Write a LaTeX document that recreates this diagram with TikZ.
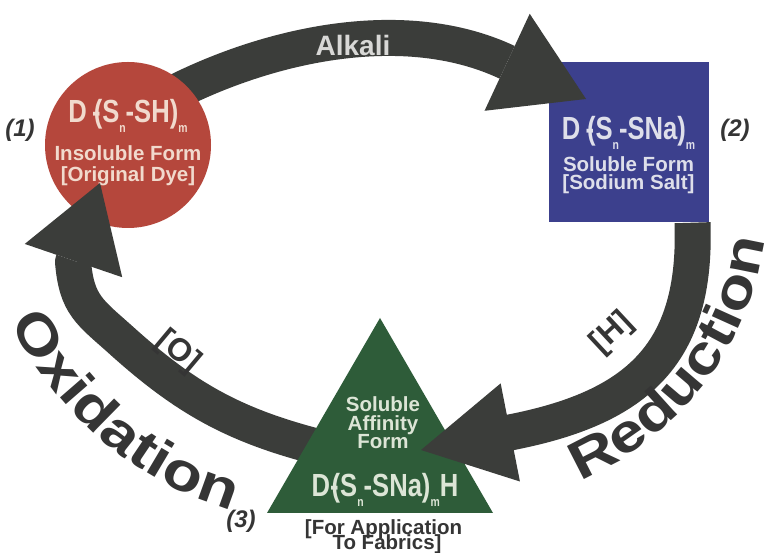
\documentclass[tikz,border=0pt]{standalone}
\usepackage{fontspec}
\setmainfont{Liberation Sans}
\newfontfamily\narrowsans[FakeStretch=0.8]{Liberation Sans}
\newfontfamily\widesans[FakeStretch=1.2]{Liberation Sans}
\usetikzlibrary{arrows.meta,decorations.text}

\definecolor{dyered}{HTML}{B5473C}
\definecolor{saltblue}{HTML}{3C408D}
\definecolor{affinitygreen}{HTML}{2E5C39}
\definecolor{bandgrey}{HTML}{3B3D3A}
\definecolor{inkgrey}{HTML}{353535}
\definecolor{peach}{HTML}{F1DACD}
\definecolor{paleblue}{HTML}{DEDFEA}
\definecolor{palegreen}{HTML}{DCE5D6}
\definecolor{alkaliink}{HTML}{D8D8D6}

\newcommand\lowsub[1]{\raisebox{-.3em}{\fontsize{13}{13}\selectfont #1}}
\newcommand\processfont{\widesans\bfseries\fontsize{54}{54}\selectfont\color{inkgrey}}

\tikzset{
  band/.style={draw=bandgrey, line width=36pt, line join=round},
  bandhead/.style 2 args={-{Triangle[length=#1, width=#2, line width=0pt]}},
  formula/.style={font=\narrowsans\bfseries\fontsize{32}{32}\selectfont, inner sep=0pt, anchor=base},
  caption/.style={font=\bfseries\fontsize{20.5}{20.5}\selectfont, inner sep=0pt, anchor=base},
  agent/.style={font=\bfseries\fontsize{32}{32}\selectfont, text=inkgrey, inner sep=0pt},
  stage/.style={font=\bfseries\itshape\fontsize{24}{24}\selectfont, text=inkgrey, inner sep=0pt},
}

\begin{document}
\begin{tikzpicture}[x=1pt,y=1pt]
  \fill [white] (0,0) rectangle (782,553);
  \useasboundingbox (0,0) rectangle (782,553);

  \coordinate (dye centre) at (128,408);
  \coordinate (alkali start) at (172,459);
  \coordinate (alkali back) at (506.5,491);
  \coordinate (alkali tip) at (586,454);
  \coordinate (oxidation start) at (326,104);
  \coordinate (oxidation bend) at (122,212);
  \coordinate (oxidation back) at (73,291);
  \coordinate (oxidation tip) at (100,370);
  \coordinate (reduction back) at (510,120.5);
  \coordinate (reduction tip) at (421,103);

  % (2) sodium salt
  \node [fill=saltblue, minimum size=160pt, inner sep=0pt] (salt) at (628.5,410.5) {};
  \node [formula, text=paleblue] (salt formula) at ([yshift=3pt]salt.center)
    {D\,-\kern-.22em(S\lowsub{n}-SNa)\lowsub{m}};
  \node [caption, text=paleblue] (salt form) at ([yshift=-29.5pt]salt.center) {Soluble Form};
  \node [caption, text=paleblue] (salt note) at ([yshift=-47.5pt]salt.center) {[Sodium Salt]};

  % alkali
  \draw
    [band, bandhead={87pt}{107pt}]
    (alkali start)
    to [out=27, in=155, looseness=0.85] (alkali back)
    -- (alkali tip)
  ;

  % (1) original dye
  \node [circle, fill=dyered, minimum size=166pt, inner sep=0pt] (dye) at (dye centre) {};
  \node [formula, text=peach] (dye formula) at ([yshift=22pt]dye.center)
    {D\,-\kern-.22em(S\lowsub{n}-SH)\lowsub{m}};
  \node [caption, text=peach] (dye form) at ([yshift=-16pt]dye.center) {Insoluble Form};
  \node [caption, text=peach] (dye note) at ([yshift=-37pt]dye.center) {[Original Dye]};

  % oxidation
  \draw
    [band, bandhead={82pt}{103pt}]
    (oxidation start)
    to [out=166, in=-42] (oxidation bend)
    to [out=138, in=-85, looseness=1.2] (oxidation back)
    -- (oxidation tip)
  ;

  % (3) affinity form
  \fill
    [affinitygreen]
    (380,235) coordinate (affinity top)
    -- (267,40) coordinate (affinity left)
    -- (493,40) coordinate (affinity right)
    -- cycle
  ;
  \node [caption, text=palegreen] (affinity a) at (383,141) {Soluble};
  \node [caption, text=palegreen] (affinity b) at (383,122) {Affinity};
  \node [caption, text=palegreen] (affinity c) at (383,104) {Form};
  \node [formula, text=palegreen] (affinity formula) at (385,56)
    {D-\kern-.22em(S\lowsub{n}-SNa)\lowsub{m}H};
  \node [caption, text=inkgrey] (fabric a) at (383.5,18) {[For Application};
  \node [caption, text=inkgrey] (fabric b) at (387,3) {To Fabrics]};

  % reduction
  \draw
    [band, bandhead={91pt}{100pt}]
    ([xshift=64pt]salt.south)
    to [out=-88, in=11, looseness=1.2] (reduction back)
    -- (reduction tip)
  ;

  % labels
  \node [font=\bfseries\fontsize{28}{28}\selectfont, text=alkaliink, inner sep=0pt]
    (alkali) at (353,507) {Alkali};
  \node [agent, rotate=-40] (oxygen) at (178,201) {[O]};
  \node [agent, rotate=43] (hydrogen) at (612,220) {[H]};
  \path
    [decorate, decoration={text along path, text align=center,
      text={|\processfont|Oxidation}}]
    (335,387) ++(191:360) arc [start angle=191, end angle=268, radius=360]
  ;
  \path
    [decorate, decoration={text along path, text align=center,
      text={|\processfont|Reduction}}]
    (462,354) ++(-76:305) arc [start angle=-76, end angle=1, radius=305]
  ;
  \node [stage] (stage one) at (20,423) {(1)};
  \node [stage] (stage two) at (735,423) {(2)};
  \node [stage] (stage three) at (241,32) {(3)};
\end{tikzpicture}
\end{document}
